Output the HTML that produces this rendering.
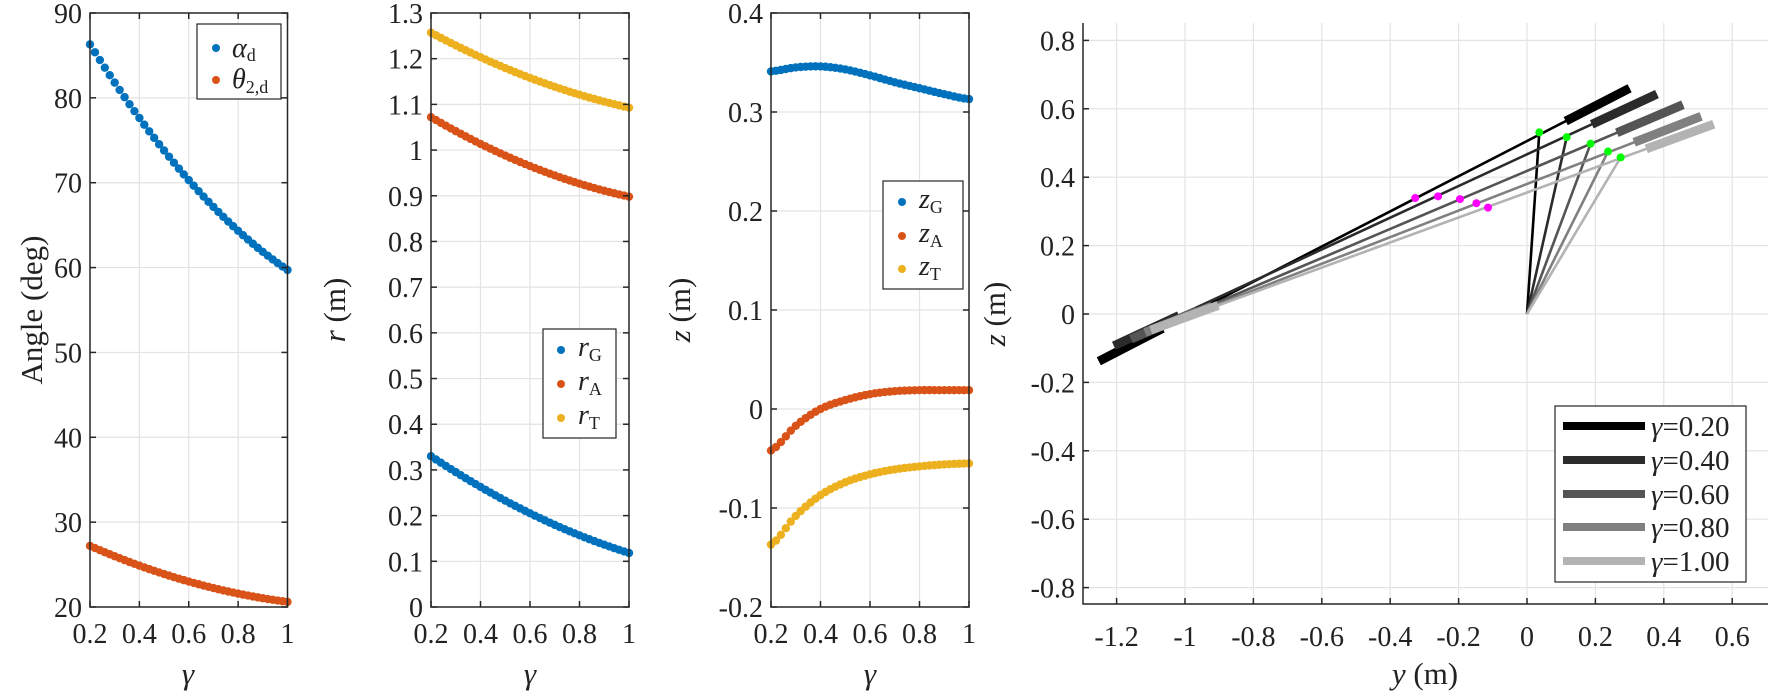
<!DOCTYPE html>
<html><head><meta charset="utf-8"><style>
body{margin:0;background:#fff}
svg{display:block}
svg, svg text, svg tspan{font-family:"Liberation Serif","DejaVu Serif","Noto Serif CJK SC",serif !important;}
svg text{fill:#222}
</style></head><body>
<svg id="s" width="1770" height="693" viewBox="0 0 1770 693" xmlns="http://www.w3.org/2000/svg" style="font-family:'Liberation Serif',serif">
<g id="grid" stroke="#e3e3e3" stroke-width="1.2"></g>
<g id="data"></g>
<g id="axes" stroke="#262626" stroke-width="1.5" fill="none"></g>
<g id="ticklbl" font-size="28" text-anchor="middle" style="font-family:'Liberation Serif',serif"></g>
<g style="font-family:'Liberation Serif',serif">
<text x="42" y="310" font-size="31" text-anchor="middle" transform="rotate(-90 42 310)">Angle (deg)</text>
<text x="188" y="684" font-size="31" text-anchor="middle" font-style="italic">γ</text>
<text x="345" y="310" font-size="31" text-anchor="middle" transform="rotate(-90 345 310)"><tspan font-style="italic">r</tspan> (m)</text>
<text x="530" y="684" font-size="31" text-anchor="middle" font-style="italic">γ</text>
<text x="690" y="310" font-size="31" text-anchor="middle" transform="rotate(-90 690 310)"><tspan font-style="italic">z</tspan> (m)</text>
<text x="870" y="684" font-size="31" text-anchor="middle" font-style="italic">γ</text>
<text x="1005" y="314" font-size="31" text-anchor="middle" transform="rotate(-90 1005 314)"><tspan font-style="italic">z</tspan> (m)</text>
<text x="1425" y="684" font-size="31" text-anchor="middle"><tspan font-style="italic">y</tspan> (m)</text>
</g>
<g id="legends" style="font-family:'Liberation Serif',serif">
<rect x="197" y="24" width="84" height="75" fill="#fff" stroke="#262626" stroke-width="1.2"/>
<circle cx="216" cy="48" r="4" fill="#0072BD"/><text x="232" y="57" font-size="28"><tspan font-style="italic">α</tspan><tspan font-size="18" dy="4">d</tspan></text>
<circle cx="216" cy="80" r="4" fill="#D95319"/><text x="232" y="88" font-size="28"><tspan font-style="italic">θ</tspan><tspan font-size="18" dy="5">2,d</tspan></text>

<rect x="543" y="329" width="73" height="109" fill="#fff" stroke="#262626" stroke-width="1.2"/>
<circle cx="561" cy="350" r="4" fill="#0072BD"/><text x="578" y="356" font-size="28"><tspan font-style="italic">r</tspan><tspan font-size="18" dy="5">G</tspan></text>
<circle cx="561" cy="384" r="4" fill="#D95319"/><text x="578" y="390" font-size="28"><tspan font-style="italic">r</tspan><tspan font-size="18" dy="5">A</tspan></text>
<circle cx="561" cy="418" r="4" fill="#EDB120"/><text x="578" y="424" font-size="28"><tspan font-style="italic">r</tspan><tspan font-size="18" dy="5">T</tspan></text>

<rect x="883" y="181" width="80" height="108" fill="#fff" stroke="#262626" stroke-width="1.2"/>
<circle cx="902" cy="202" r="4" fill="#0072BD"/><text x="919" y="208" font-size="28"><tspan font-style="italic">z</tspan><tspan font-size="18" dy="5">G</tspan></text>
<circle cx="902" cy="236" r="4" fill="#D95319"/><text x="919" y="242" font-size="28"><tspan font-style="italic">z</tspan><tspan font-size="18" dy="5">A</tspan></text>
<circle cx="902" cy="269" r="4" fill="#EDB120"/><text x="919" y="275" font-size="28"><tspan font-style="italic">z</tspan><tspan font-size="18" dy="5">T</tspan></text>

<rect x="1555" y="406" width="191" height="176" fill="#fff" stroke="#262626" stroke-width="1.2"/>
<line x1="1563" y1="426" x2="1645" y2="426" stroke="#000" stroke-width="8"/><text x="1651" y="436" font-size="29"><tspan font-style="italic">γ</tspan>=0.20</text>
<line x1="1563" y1="460" x2="1645" y2="460" stroke="#2b2b2b" stroke-width="8"/><text x="1651" y="470" font-size="29"><tspan font-style="italic">γ</tspan>=0.40</text>
<line x1="1563" y1="494" x2="1645" y2="494" stroke="#555" stroke-width="8"/><text x="1651" y="504" font-size="29"><tspan font-style="italic">γ</tspan>=0.60</text>
<line x1="1563" y1="527" x2="1645" y2="527" stroke="#808080" stroke-width="8"/><text x="1651" y="537" font-size="29"><tspan font-style="italic">γ</tspan>=0.80</text>
<line x1="1563" y1="561" x2="1645" y2="561" stroke="#b3b3b3" stroke-width="8"/><text x="1651" y="571" font-size="29"><tspan font-style="italic">γ</tspan>=1.00</text>
</g>
</svg>
<script>
const NS="http://www.w3.org/2000/svg";
const G=id=>document.getElementById(id);
function el(p,t,a,txt){const e=document.createElementNS(NS,t);for(const k in a)e.setAttribute(k,a[k]);if(txt!==undefined){e.textContent=txt;e.setAttribute('font-family','Liberation Serif, serif');}G(p).appendChild(e);return e;}
const TOP=13,BOT=607;
const P=[
 {x0:90,x1:287.5,ymin:20,ymax:90,yt:[20,30,40,50,60,70,80,90],fmt:v=>String(v)},
 {x0:431,x1:629,ymin:0,ymax:1.3,yt:[0,0.1,0.2,0.3,0.4,0.5,0.6,0.7,0.8,0.9,1,1.1,1.2,1.3],fmt:v=>String(+v.toFixed(1))},
 {x0:771,x1:969,ymin:-0.2,ymax:0.4,yt:[-0.2,-0.1,0,0.1,0.2,0.3,0.4],fmt:v=>String(+v.toFixed(1))}
];
P.forEach(p=>{
 p.X=g=>p.x0+(g-0.2)/0.8*(p.x1-p.x0);
 p.Y=v=>TOP+(p.ymax-v)/(p.ymax-p.ymin)*(BOT-TOP);
 [0.2,0.4,0.6,0.8,1].forEach(g=>{const x=p.X(g);
  if(g>0.2&&g<1)el('grid','line',{x1:x,y1:TOP,x2:x,y2:BOT});
  el('axes','line',{x1:x,y1:BOT,x2:x,y2:BOT-6});el('axes','line',{x1:x,y1:TOP,x2:x,y2:TOP+6});
  el('ticklbl','text',{x:x,y:BOT+36},String(g));});
 p.yt.forEach(v=>{const y=p.Y(v);
  if(v>p.ymin+1e-9&&v<p.ymax-1e-9)el('grid','line',{x1:p.x0,y1:y,x2:p.x1,y2:y});
  el('axes','line',{x1:p.x0,y1:y,x2:p.x0+6,y2:y});el('axes','line',{x1:p.x1,y1:y,x2:p.x1-6,y2:y});
  el('ticklbl','text',{x:p.x0-8,y:y+10,'text-anchor':'end'},p.fmt(v));});
 el('axes','rect',{x:p.x0,y:TOP,width:p.x1-p.x0,height:BOT-TOP});
});
function quad(a,b,c){return g=>{const t=g-0.2;return a+b*t+c*t*t;};}
function interp(pts){return g=>{const i=Math.min(7,Math.floor((g-0.2)/0.1+1e-9));const t=(g-0.2-i*0.1)/0.1;
 const p0=pts[Math.max(0,i-1)],p1=pts[i],p2=pts[i+1],p3=pts[Math.min(8,i+2)];
 return 0.5*((2*p1)+(-p0+p2)*t+(2*p0-5*p1+4*p2-p3)*t*t+(-p0+3*p1-3*p2+p3)*t*t*t);};}
const series=[
 [0,quad(86.3,-46.75,16.9),'#0072BD'],[0,quad(27.2,-12.75,5.63),'#D95319'],
 [1,quad(0.33,-0.36,0.119),'#0072BD'],[1,quad(1.072,-0.3175,0.125),'#D95319'],[1,quad(1.257,-0.29,0.106),'#EDB120'],
 [2,interp([.341,.345,.346,.343,.337,.330,.324,.318,.313]),'#0072BD'],
 [2,interp([-.042,-.017,0,.009,.015,.018,.019,.019,.019]),'#D95319'],
 [2,interp([-.137,-.108,-.087,-.074,-.066,-.061,-.058,-.056,-.055]),'#EDB120']];
series.forEach(([pi,f,c])=>{const p=P[pi];for(let k=0;k<=40;k++){const g=0.2+k*0.02;el('data','circle',{cx:p.X(g),cy:p.Y(f(g)),r:4.2,fill:c});}});
const X4=y=>1527+y*342,Y4=z=>314-z*342,L4=1083,R4=1768,T4=23,B4=604;
[-1.2,-1,-0.8,-0.6,-0.4,-0.2,0,0.2,0.4,0.6].forEach(v=>{const x=X4(v);
 el('grid','line',{x1:x,y1:T4,x2:x,y2:B4});el('axes','line',{x1:x,y1:B4,x2:x,y2:B4-6});
 el('ticklbl','text',{x:x,y:B4+42},String(v));});
[-0.8,-0.6,-0.4,-0.2,0,0.2,0.4,0.6,0.8].forEach(v=>{const y=Y4(v);
 el('grid','line',{x1:L4,y1:y,x2:R4,y2:y});el('axes','line',{x1:L4,y1:y,x2:L4+6,y2:y});
 el('ticklbl','text',{x:L4-8,y:y+10,'text-anchor':'end'},String(v));});
el('axes','polyline',{points:`${L4},${T4} ${L4},${B4} ${R4},${B4}`});
const arms=[
 {c:'#000',top:[0.30,0.66],l:[-1.252,-0.138],gr:[0.036,0.531],mg:[-0.327,0.339]},
 {c:'#2b2b2b',top:[0.38,0.643],l:[-1.208,-0.093],gr:[0.116,0.517],mg:[-0.26,0.344]},
 {c:'#555',top:[0.456,0.612],l:[-1.158,-0.073],gr:[0.186,0.498],mg:[-0.196,0.336]},
 {c:'#808080',top:[0.509,0.578],l:[-1.117,-0.054],gr:[0.237,0.475],mg:[-0.148,0.324]},
 {c:'#b3b3b3',top:[0.546,0.555],l:[-1.10,-0.047],gr:[0.274,0.458],mg:[-0.114,0.311]}];
arms.forEach(a=>{
 const dx=a.top[0]-a.l[0],dz=a.top[1]-a.l[1],len=Math.hypot(dx,dz),ux=dx/len,uz=dz/len,bl=0.21;
 el('data','line',{x1:X4(a.l[0]),y1:Y4(a.l[1]),x2:X4(a.top[0]),y2:Y4(a.top[1]),stroke:a.c,'stroke-width':2.6});
 el('data','line',{x1:X4(a.l[0]),y1:Y4(a.l[1]),x2:X4(a.l[0]+ux*bl),y2:Y4(a.l[1]+uz*bl),stroke:a.c,'stroke-width':9});
 el('data','line',{x1:X4(a.top[0]-ux*bl),y1:Y4(a.top[1]-uz*bl),x2:X4(a.top[0]),y2:Y4(a.top[1]),stroke:a.c,'stroke-width':9});
 el('data','line',{x1:X4(0),y1:Y4(0),x2:X4(a.gr[0]),y2:Y4(a.gr[1]),stroke:a.c,'stroke-width':2.6});
});
arms.forEach(a=>{
 el('data','circle',{cx:X4(a.gr[0]),cy:Y4(a.gr[1]),r:4,fill:'#00ff00'});
 el('data','circle',{cx:X4(a.mg[0]),cy:Y4(a.mg[1]),r:4,fill:'#ff00ff'});
});
</script>
</body></html>
